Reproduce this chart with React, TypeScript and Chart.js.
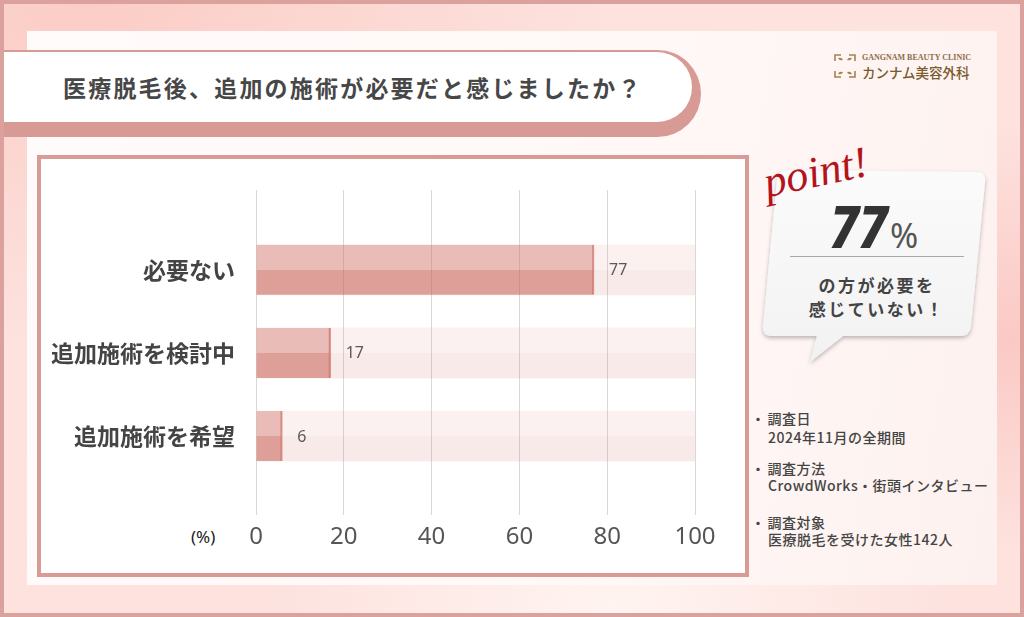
import React, { useEffect, useRef } from "react";
import { Chart, registerables } from "chart.js";

Chart.register(...registerables);

const categories = ["必要ない", "追加施術を検討中", "追加施術を希望"];
const values = [77, 17, 6];
const trackValues = [100, 100, 100];
const xMin = 0;
const xMax = 100;
const xStep = 20;

const jp = '"Noto Sans CJK JP", "Noto Sans", sans-serif';
const Y_MIN = -0.96;
const Y_MAX = 2.95;

const halfGrad = (top: string, bottom: string, half: number) => (c: any) => {
  const chart = c.chart;
  const ys = chart.scales && chart.scales.y;
  if (c.type !== "data" || !ys) return bottom;
  const yc = ys.getPixelForValue(c.dataIndex);
  if (!Number.isFinite(yc)) return bottom;
  const g = chart.ctx.createLinearGradient(0, yc - half, 0, yc + half);
  g.addColorStop(0, top);
  g.addColorStop(0.5, top);
  g.addColorStop(0.5, bottom);
  g.addColorStop(1, bottom);
  return g;
};

const valueLabels = {
  id: "valueLabels",
  afterDatasetsDraw(chart: any) {
    const meta = chart.getDatasetMeta(0);
    const ctx = chart.ctx;
    ctx.save();
    ctx.font = '16px "Noto Sans", sans-serif';
    ctx.fillStyle = "#5a5a5a";
    ctx.textBaseline = "middle";
    ctx.textAlign = "left";
    meta.data.forEach((el: any, i: number) => {
      ctx.fillText(String(values[i]), el.x + 15, el.y + 1);
    });
    ctx.restore();
  },
};

export default function App() {
  const ref = useRef<HTMLCanvasElement>(null);

  useEffect(() => {
    if (!ref.current) return;
    const chart = new Chart(ref.current, {
      type: "bar",
      data: {
        datasets: [
          {
            data: values.map((v, i) => ({ x: v, y: i })),
            backgroundColor: halfGrad("rgba(200,90,80,0.35)", "rgba(200,90,80,0.52)", 25),
            borderColor: "rgba(195,80,70,0.6)",
            borderWidth: { top: 0, right: 1.5, bottom: 0, left: 0 },
            barThickness: 50,
            grouped: false,
          } as any,
          {
            data: trackValues.map((v, i) => ({ x: v, y: i })),
            backgroundColor: halfGrad("rgba(230,160,150,0.15)", "rgba(210,115,110,0.15)", 25),
            borderWidth: 0,
            barThickness: 50,
            grouped: false,
          } as any,
        ],
      },
      options: {
        indexAxis: "y",
        responsive: false,
        animation: false,
        events: [],
        layout: { padding: { left: 0, right: 329, top: 190, bottom: 62 } },
        plugins: { legend: { display: false }, tooltip: { enabled: false } },
        scales: {
          x: {
            type: "linear",
            min: xMin,
            max: xMax,
            ticks: {
              stepSize: xStep,
              padding: 8,
              color: "#555",
              font: { family: '"Noto Sans", sans-serif', size: 24 },
            },
            grid: { color: "#d8d8d8", lineWidth: 1, drawTicks: false },
            border: { display: false },
            afterFit: (s: any) => {
              s.height = 40;
            },
          },
          y: {
            type: "linear",
            reverse: true,
            offset: false,
            bounds: "data",
            min: Y_MIN,
            max: Y_MAX,
            afterBuildTicks: (s: any) => {
              s.ticks = categories.map((_, i) => ({ value: i }));
              s.min = Y_MIN;
              s.max = Y_MAX;
            },
            ticks: {
              callback: (v: any) => categories[v] ?? "",
              padding: 13,
              color: "#444",
              font: { family: jp, size: 23, weight: "bold" },
            },
            grid: { display: false, offset: false },
            border: { display: false },
            afterFit: (s: any) => {
              s.width = 256;
            },
          },
        },
      } as any,
      plugins: [valueLabels],
    });
    return () => chart.destroy();
  }, []);

  const abs = (o: React.CSSProperties): React.CSSProperties => ({ position: "absolute", ...o });
  const note: React.CSSProperties = {
    fontSize: 14,
    fontWeight: 500,
    color: "#444",
    lineHeight: "14px",
    letterSpacing: 0.5,
    whiteSpace: "nowrap",
  };

  return (
    <div
      style={abs({
        left: 0,
        top: 0,
        width: 1024,
        height: 617,
        overflow: "hidden",
        fontFamily: jp,
        boxSizing: "border-box",
        border: "4px solid #dba19c",
        background:
          "radial-gradient(ellipse at 8% 0%, #fbcdc6 0%, rgba(251,205,198,0) 40%), radial-gradient(ellipse at 100% 55%, #fbc9c5 0%, rgba(251,201,197,0) 45%), radial-gradient(circle at 60% 100%, #fff4f1 0%, rgba(255,244,241,0) 40%), #fde2de",
      })}
    >
      {/* white card */}
      <div
        style={abs({
          left: 23,
          top: 27,
          width: 970,
          height: 554,
          background: "linear-gradient(100deg, #fffbfa 0%, #fff8f7 60%, #fdf1ef 100%)",
        })}
      />
      {/* title pill */}
      <div style={abs({ left: -4, top: 46, width: 701, height: 87, borderRadius: "0 44px 44px 0", background: "#d79a95" })} />
      <div
        style={abs({
          left: -4,
          top: 48,
          width: 692,
          height: 70,
          borderRadius: "0 35px 35px 0",
          background: "#fff",
          display: "flex",
          alignItems: "center",
          boxSizing: "border-box",
          paddingLeft: 63,
          fontSize: 23,
          fontWeight: 700,
          letterSpacing: 2.2,
          color: "#474747",
          whiteSpace: "nowrap",
        })}
      >
        医療脱毛後、追加の施術が必要だと感じましたか？
      </div>

      {/* logo */}
      <svg style={abs({ left: 829, top: 49 })} width={24} height={26} viewBox="0 0 24 26">
        <g fill="none" stroke="#a3834f" strokeWidth={1.6}>
          <path d="M2 8 L2 2 L8 2" />
          <path d="M16 2 L22 2 L22 8" />
          <path d="M22 18 L22 24 L16 24" />
          <path d="M8 24 L2 24 L2 18" />
        </g>
        <g fill="#a3834f">
          <path d="M5 5 Q9 4 10 7 Q6 8 5 5 Z" />
          <path d="M19 5 Q15 4 14 7 Q18 8 19 5 Z" />
          <path d="M19 21 Q15 22 14 19 Q18 18 19 21 Z" />
          <path d="M5 21 Q9 22 10 19 Q6 18 5 21 Z" />
        </g>
      </svg>
      <div
        style={abs({
          left: 858,
          top: 49,
          fontFamily: '"Liberation Serif", serif',
          fontWeight: 700,
          fontSize: 8,
          lineHeight: "9px",
          color: "#8d6e47",
          whiteSpace: "nowrap",
        })}
      >
        GANGNAM BEAUTY CLINIC
      </div>
      <div
        style={abs({
          left: 858,
          top: 60,
          fontSize: 13.5,
          lineHeight: "16px",
          fontWeight: 500,
          color: "#7a5a2e",
          whiteSpace: "nowrap",
        })}
      >
        カンナム美容外科
      </div>

      {/* chart frame */}
      <div
        style={abs({
          left: 33,
          top: 151,
          width: 712,
          height: 422,
          boxSizing: "border-box",
          border: "4px solid #d99b96",
          background: "#fff",
        })}
      />

      {/* bubble */}
      <svg style={abs({ left: 736, top: 136 })} width={260} height={240} viewBox="0 0 260 240">
        <defs>
          <linearGradient id="bubbleFill" x1="0" y1="0" x2="0" y2="1">
            <stop offset="0" stopColor="#fbfbfb" />
            <stop offset="1" stopColor="#f2f2f2" />
          </linearGradient>
          <filter id="bubbleShadow" x="-10%" y="-10%" width="120%" height="130%">
            <feDropShadow dx="0" dy="2" stdDeviation="2.2" floodColor="#000" floodOpacity="0.28" />
          </filter>
        </defs>
        <path
          d="M48 30 L236 32 Q246 32 245 42 L231 186 Q230 196 220 196 L103 196 L70 222 L77 196 L32 196 Q22 196 23 186 L37 40 Q38 30 48 30 Z"
          fill="url(#bubbleFill)"
          filter="url(#bubbleShadow)"
        />
      </svg>
      <div
        style={abs({
          left: 765,
          top: 157,
          fontFamily: '"Liberation Serif", serif',
          fontStyle: "italic",
          fontSize: 44,
          lineHeight: "44px",
          color: "#b3141b",
          transform: "rotate(-12deg)",
          transformOrigin: "left bottom",
          whiteSpace: "nowrap",
        })}
      >
        point!
      </div>
      <div
        style={abs({
          left: 826,
          top: 193,
          fontFamily: '"Noto Sans", sans-serif',
          fontStyle: "italic",
          fontWeight: 800,
          fontSize: 58,
          lineHeight: "58px",
          color: "#333",
          transform: "scaleX(0.88)",
          transformOrigin: "left center",
          whiteSpace: "nowrap",
        })}
      >
        77
      </div>
      <div
        style={abs({
          left: 886,
          top: 214,
          fontFamily: '"Noto Sans", sans-serif',
          fontSize: 34,
          lineHeight: "34px",
          color: "#555",
        })}
      >
        %
      </div>
      <div style={abs({ left: 786, top: 252, width: 174, height: 1, background: "#a8a8a8" })} />
      <div
        style={abs({
          left: 771,
          top: 269,
          width: 204,
          textAlign: "center",
          fontSize: 17,
          lineHeight: "24px",
          fontWeight: 700,
          letterSpacing: 2.5,
          color: "#444",
          whiteSpace: "nowrap",
        })}
      >
        <div>の方が必要を</div>
        <div>感じていない！</div>
      </div>

      {/* notes */}
      <div style={abs({ left: 747, top: 407, ...note })}>
        ・<span style={{ marginLeft: 2 }}>調査日</span>
      </div>
      <div style={abs({ left: 764, top: 426, ...note })}>2024年11月の全期間</div>
      <div style={abs({ left: 747, top: 457, ...note })}>
        ・<span style={{ marginLeft: 2 }}>調査方法</span>
      </div>
      <div style={abs({ left: 764, top: 474, ...note })}>CrowdWorks・街頭インタビュー</div>
      <div style={abs({ left: 747, top: 511, ...note })}>
        ・<span style={{ marginLeft: 2 }}>調査対象</span>
      </div>
      <div style={abs({ left: 764, top: 528, ...note })}>医療脱毛を受けた女性142人</div>

      {/* axis unit */}
      <div
        style={abs({
          left: 187,
          top: 523,
          fontFamily: '"Noto Sans", sans-serif',
          fontSize: 17,
          lineHeight: "20px",
          color: "#222",
        })}
      >
        (%)
      </div>

      <canvas
        ref={ref}
        width={1024}
        height={617}
        style={abs({ left: -4, top: -4, width: 1024, height: 617 })}
      />
    </div>
  );
}
